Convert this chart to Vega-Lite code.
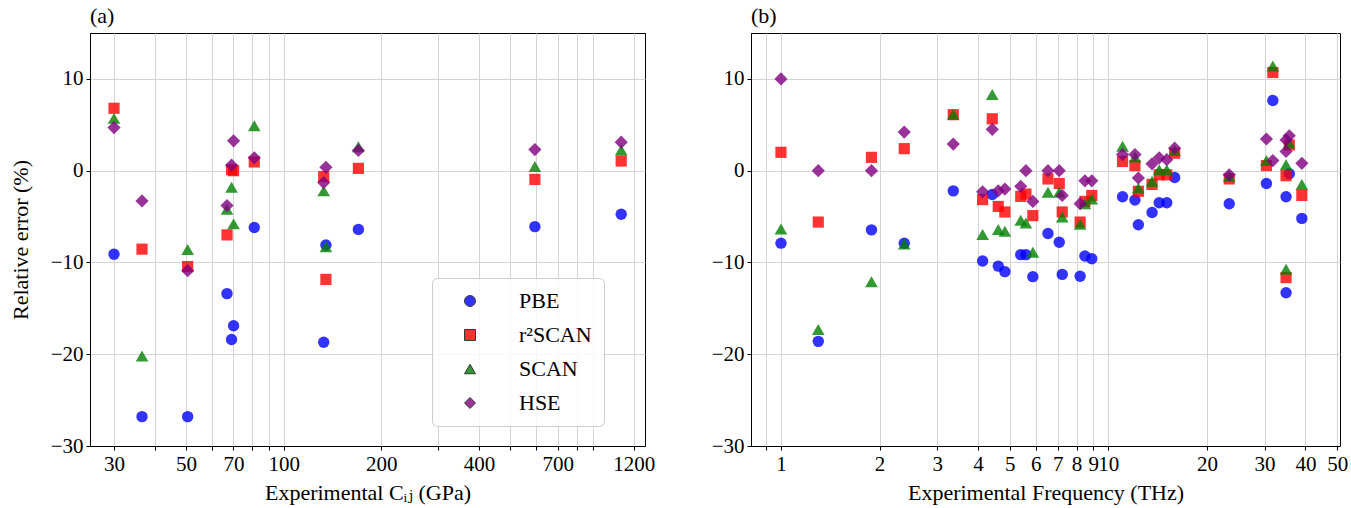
{
  "$schema": "https://vega.github.io/schema/vega-lite/v6.json",
  "padding": {"left": 8, "top": 4, "right": 2, "bottom": 4},
  "background": "white",
  "datasets": {
    "a": [
      {"x": 30, "PBE": -9.1, "r²SCAN": 6.8, "SCAN": 5.7, "HSE": 4.7},
      {"x": 36.6, "PBE": -26.8, "r²SCAN": -8.55, "SCAN": -20.2, "HSE": -3.3},
      {"x": 50.6, "PBE": -26.8, "r²SCAN": -10.45, "SCAN": -8.6, "HSE": -10.9},
      {"x": 66.9, "PBE": -13.4, "r²SCAN": -7.0, "SCAN": -4.2, "HSE": -3.8},
      {"x": 69.1, "PBE": -18.4, "r²SCAN": 0.1, "SCAN": -1.8, "HSE": 0.6},
      {"x": 70.1, "PBE": -16.9, "r²SCAN": 0.0, "SCAN": -5.8, "HSE": 3.25},
      {"x": 81.2, "PBE": -6.2, "r²SCAN": 0.95, "SCAN": 4.9, "HSE": 1.4},
      {"x": 132.9, "PBE": -18.7, "r²SCAN": -0.65, "SCAN": -2.2, "HSE": -1.3},
      {"x": 135, "PBE": -8.1, "r²SCAN": -11.85, "SCAN": -8.3, "HSE": 0.36},
      {"x": 170, "PBE": -6.4, "r²SCAN": 0.25, "SCAN": 2.6, "HSE": 2.2},
      {"x": 595, "PBE": -6.1, "r²SCAN": -0.95, "SCAN": 0.45, "HSE": 2.3},
      {"x": 1098, "PBE": -4.75, "r²SCAN": 1.05, "SCAN": 2.25, "HSE": 3.1}
    ],
    "b": [
      {"x": 1.0, "PBE": -7.9, "r²SCAN": 2.0, "SCAN": -6.35, "HSE": 10.0},
      {"x": 1.30, "PBE": -18.6, "r²SCAN": -5.6, "SCAN": -17.3, "HSE": 0.0},
      {"x": 1.89, "PBE": -6.45, "r²SCAN": 1.45, "SCAN": -12.1, "HSE": 0.0},
      {"x": 2.38, "PBE": -7.9, "r²SCAN": 2.4, "SCAN": -8.0, "HSE": 4.2},
      {"x": 3.36, "PBE": -2.2, "r²SCAN": 6.1, "SCAN": 6.15, "HSE": 2.9},
      {"x": 4.13, "PBE": -9.85, "r²SCAN": -3.15, "SCAN": -6.95, "HSE": -2.3},
      {"x": 4.42, "PBE": -2.6, "r²SCAN": 5.65, "SCAN": 8.3, "HSE": 4.5},
      {"x": 4.61, "PBE": -10.4, "r²SCAN": -3.9, "SCAN": -6.4, "HSE": -2.2},
      {"x": 4.83, "PBE": -11.0, "r²SCAN": -4.5, "SCAN": -6.6, "HSE": -2.0},
      {"x": 5.40, "PBE": -9.15, "r²SCAN": -2.8, "SCAN": -5.4, "HSE": -1.7},
      {"x": 5.60, "PBE": -9.15, "r²SCAN": -2.55, "SCAN": -5.7, "HSE": 0.0},
      {"x": 5.88, "PBE": -11.55, "r²SCAN": -4.9, "SCAN": -8.9, "HSE": -3.35},
      {"x": 6.54, "PBE": -6.85, "r²SCAN": -0.9, "SCAN": -2.35, "HSE": 0.0},
      {"x": 7.08, "PBE": -7.8, "r²SCAN": -1.4, "SCAN": -2.35, "HSE": 0.0},
      {"x": 7.23, "PBE": -11.3, "r²SCAN": -4.5, "SCAN": -5.05, "HSE": -2.7},
      {"x": 8.2, "PBE": -11.5, "r²SCAN": -5.6, "SCAN": -5.85, "HSE": -3.6},
      {"x": 8.48, "PBE": -9.3, "r²SCAN": -3.35, "SCAN": -3.6, "HSE": -1.1},
      {"x": 8.90, "PBE": -9.6, "r²SCAN": -2.7, "SCAN": -3.1, "HSE": -1.1},
      {"x": 11.05, "PBE": -2.85, "r²SCAN": 1.0, "SCAN": 2.65, "HSE": 1.75},
      {"x": 12.06, "PBE": -3.2, "r²SCAN": 0.55, "SCAN": 1.5, "HSE": 1.75},
      {"x": 12.35, "PBE": -5.9, "r²SCAN": -2.25, "SCAN": -1.9, "HSE": -0.8},
      {"x": 13.6, "PBE": -4.55, "r²SCAN": -1.5, "SCAN": -1.15, "HSE": 0.75},
      {"x": 14.3, "PBE": -3.5, "r²SCAN": -0.45, "SCAN": 0.1, "HSE": 1.4},
      {"x": 15.08, "PBE": -3.5, "r²SCAN": -0.45, "SCAN": 0.1, "HSE": 1.2},
      {"x": 15.94, "PBE": -0.75, "r²SCAN": 1.9, "SCAN": 2.2, "HSE": 2.45},
      {"x": 23.4, "PBE": -3.6, "r²SCAN": -0.9, "SCAN": -0.6, "HSE": -0.45},
      {"x": 30.4, "PBE": -1.4, "r²SCAN": 0.55, "SCAN": 1.1, "HSE": 3.45},
      {"x": 31.8, "PBE": 7.65, "r²SCAN": 10.7, "SCAN": 11.4, "HSE": 1.1},
      {"x": 34.9, "PBE": -2.85, "r²SCAN": -0.55, "SCAN": 0.65, "HSE": 2.1},
      {"x": 34.9, "PBE": -13.3, "r²SCAN": -11.65, "SCAN": -10.75, "HSE": 3.35},
      {"x": 35.7, "PBE": -0.33, "r²SCAN": 2.8, "SCAN": 3.0, "HSE": 3.8},
      {"x": 39.0, "PBE": -5.2, "r²SCAN": -2.7, "SCAN": -1.5, "HSE": 0.8}
    ]
  },
  "config": {
    "font": "Liberation Serif, DejaVu Serif, serif",
    "view": {"stroke": "black", "strokeWidth": 1},
    "axis": {
      "labelFont": "Liberation Serif, DejaVu Serif, serif", "titleFont": "Liberation Serif, DejaVu Serif, serif",
      "labelFontSize": 21, "titleFontSize": 22, "titleFontWeight": "normal",
      "labelColor": "black", "titleColor": "black",
      "domainColor": "black", "tickColor": "black",
      "gridColor": "#d4d4d4", "gridWidth": 1,
      "labelOverlap": false, "labelFlush": false
    },
    "legend": {"labelFont": "Liberation Serif, DejaVu Serif, serif"},
    "title": {"font": "Liberation Serif, DejaVu Serif, serif", "fontSize": 22, "fontWeight": "normal", "color": "black", "anchor": "start", "frame": "group", "offset": 5}
  },
  "spacing": 106,
  "bounds": "flush",
  "resolve": {"scale": {"color": "independent", "shape": "independent"}, "legend": {"color": "independent", "shape": "independent"}},
  "hconcat": [
    {
      "width": 555, "height": 413,
      "title": {"text": "(a)"},
      "data": {"name": "a"},
      "encoding": {
        "x": {"field": "x", "type": "quantitative",
          "scale": {"type": "log", "domain": [25.3, 1300], "nice": false},
          "axis": {"title": "Experimental Cᵢⱼ (GPa)",
            "labelFont": "Liberation Serif, DejaVu Serif, serif", "titleFont": "Liberation Serif, DejaVu Serif, serif",
            "values": [30, 40, 50, 60, 70, 80, 90, 100, 200, 300, 400, 500, 600, 700, 800, 900, 1200],
            "format": "d",
            "labelExpr": "indexof([30,50,70,100,200,400,700,1200], datum.value) >= 0 ? datum.label : ''",
            "tickSize": 4, "labelPadding": 3, "titlePadding": 8}}
      },
      "layer": [
        {"mark": {"type": "point", "filled": true, "opacity": 0.8, "size": 130, "strokeWidth": 0},
          "encoding": {
            "y": {"field": "PBE", "type": "quantitative",
              "scale": {"domain": [-30, 15], "nice": false},
              "axis": {"title": "Relative error (%)", "labelFont": "Liberation Serif, DejaVu Serif, serif", "titleFont": "Liberation Serif, DejaVu Serif, serif",
                "values": [-30, -20, -10, 0, 10], "tickSize": 4, "labelPadding": 3, "titlePadding": 18}},
            "color": {"datum": "PBE", "type": "nominal",
              "scale": {"domain": ["PBE", "r²SCAN", "SCAN", "HSE"], "range": ["#0000ff", "#ff0000", "#008000", "#800080"]},
              "legend": {"orient": "none", "legendX": 342, "legendY": 245, "title": null,
                "fillColor": "rgba(255,255,255,0.8)", "strokeColor": "#cccccc", "cornerRadius": 5, "padding": 12,
                "labelFont": "Liberation Serif, DejaVu Serif, serif", "labelFontSize": 22, "labelColor": "black",
                "symbolSize": 120, "symbolStrokeColor": "black", "symbolStrokeWidth": 1, "symbolOpacity": 1,
                "rowPadding": 12, "symbolOffset": 15, "labelOffset": 38}},
            "shape": {"datum": "PBE", "type": "nominal",
              "scale": {"domain": ["PBE", "r²SCAN", "SCAN", "HSE"], "range": ["circle", "square", "triangle-up", "diamond"]},
              "legend": {"orient": "none", "legendX": 342, "legendY": 245, "title": null,
                "fillColor": "rgba(255,255,255,0.8)", "strokeColor": "#cccccc", "cornerRadius": 5, "padding": 12,
                "labelFont": "Liberation Serif, DejaVu Serif, serif", "labelFontSize": 22, "labelColor": "black",
                "symbolSize": 120, "symbolStrokeColor": "black", "symbolStrokeWidth": 1, "symbolOpacity": 1,
                "rowPadding": 12, "symbolOffset": 15, "labelOffset": 38}}
          }},
        {"mark": {"type": "point", "filled": true, "opacity": 0.8, "size": 125, "strokeWidth": 0},
          "encoding": {
            "y": {"field": "r²SCAN", "type": "quantitative"},
            "color": {"datum": "r²SCAN", "type": "nominal"},
            "shape": {"datum": "r²SCAN", "type": "nominal"}
          }},
        {"mark": {"type": "point", "filled": true, "opacity": 0.8, "size": 160, "strokeWidth": 0},
          "encoding": {
            "y": {"field": "SCAN", "type": "quantitative"},
            "color": {"datum": "SCAN", "type": "nominal"},
            "shape": {"datum": "SCAN", "type": "nominal"}
          }},
        {"mark": {"type": "point", "filled": true, "opacity": 0.8, "size": 175, "strokeWidth": 0},
          "encoding": {
            "y": {"field": "HSE", "type": "quantitative"},
            "color": {"datum": "HSE", "type": "nominal"},
            "shape": {"datum": "HSE", "type": "nominal"}
          }}
      ]
    },
    {
      "width": 589, "height": 413,
      "title": {"text": "(b)"},
      "data": {"name": "b"},
      "encoding": {
        "x": {"field": "x", "type": "quantitative",
          "scale": {"type": "log", "domain": [0.81, 51], "nice": false},
          "axis": {"title": "Experimental Frequency (THz)",
            "labelFont": "Liberation Serif, DejaVu Serif, serif", "titleFont": "Liberation Serif, DejaVu Serif, serif",
            "values": [0.9, 1, 2, 3, 4, 5, 6, 7, 8, 9, 10, 20, 30, 40, 50],
            "format": "d",
            "labelExpr": "datum.value < 0.95 ? '' : datum.label",
            "tickSize": 4, "labelPadding": 3, "titlePadding": 8}}
      },
      "layer": [
        {"mark": {"type": "point", "filled": true, "opacity": 0.8, "size": 130, "strokeWidth": 0},
          "encoding": {
            "y": {"field": "PBE", "type": "quantitative",
              "scale": {"domain": [-30, 15], "nice": false},
              "axis": {"title": null, "labelFont": "Liberation Serif, DejaVu Serif, serif",
                "values": [-30, -20, -10, 0, 10], "tickSize": 4, "labelPadding": 3}},
            "color": {"datum": "PBE", "type": "nominal",
              "scale": {"domain": ["PBE", "r²SCAN", "SCAN", "HSE"], "range": ["#0000ff", "#ff0000", "#008000", "#800080"]},
              "legend": null},
            "shape": {"datum": "PBE", "type": "nominal",
              "scale": {"domain": ["PBE", "r²SCAN", "SCAN", "HSE"], "range": ["circle", "square", "triangle-up", "diamond"]},
              "legend": null}
          }},
        {"mark": {"type": "point", "filled": true, "opacity": 0.8, "size": 125, "strokeWidth": 0},
          "encoding": {
            "y": {"field": "r²SCAN", "type": "quantitative"},
            "color": {"datum": "r²SCAN", "type": "nominal", "legend": null},
            "shape": {"datum": "r²SCAN", "type": "nominal", "legend": null}
          }},
        {"mark": {"type": "point", "filled": true, "opacity": 0.8, "size": 160, "strokeWidth": 0},
          "encoding": {
            "y": {"field": "SCAN", "type": "quantitative"},
            "color": {"datum": "SCAN", "type": "nominal", "legend": null},
            "shape": {"datum": "SCAN", "type": "nominal", "legend": null}
          }},
        {"mark": {"type": "point", "filled": true, "opacity": 0.8, "size": 175, "strokeWidth": 0},
          "encoding": {
            "y": {"field": "HSE", "type": "quantitative"},
            "color": {"datum": "HSE", "type": "nominal", "legend": null},
            "shape": {"datum": "HSE", "type": "nominal", "legend": null}
          }}
      ]
    }
  ]
}
